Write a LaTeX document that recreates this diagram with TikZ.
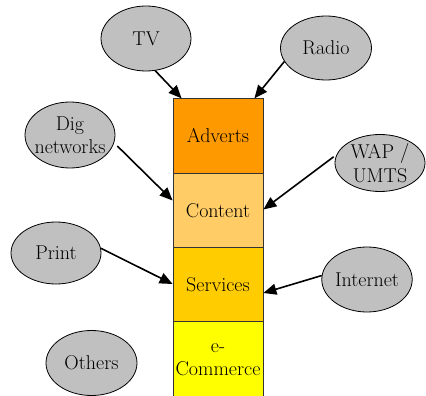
\documentclass[tikz,border=0pt]{standalone}
\usepackage{fontspec}
\usetikzlibrary{shapes.geometric,arrows.meta,calc}
\definecolor{advc}{HTML}{FF9900}
\definecolor{conc}{HTML}{FFCC66}
\definecolor{serc}{HTML}{FFCC00}
\definecolor{ecoc}{HTML}{FFFF00}
\definecolor{ellc}{HTML}{C0C0C0}
\tikzset{
  txt/.style={font=\fontsize{20}{23.5}\selectfont},
  src/.style={txt, ellipse, draw=black, fill=ellc, line width=0.8pt, minimum width=90pt, minimum height=64pt, inner sep=0pt, align=center},
  layer/.style={txt, rectangle, draw=black!80, line width=0.8pt, minimum width=90pt, minimum height=74.5pt, inner sep=0pt, align=center},
  feed/.style={line width=1.6pt, -{Triangle[length=13pt,width=11pt]}}
}
\begin{document}
\begin{tikzpicture}[x=1pt,y=-1pt]
\useasboundingbox (0,0) rectangle (426,396);
\begin{scope}
\clip (0,0) rectangle (426,396);
\node[layer, fill=advc] (adv) at (218,136) {Adverts};
\node[layer, fill=conc] (con) at (218,210.5) {Content};
\node[layer, fill=serc] (ser) at (218,285) {Services};
\node[layer, fill=ecoc, minimum height=76pt] (eco) at (218,359.5) {e-\\[-1pt]Commerce};
\end{scope}
\node[src, minimum height=65pt] (tv) at (146,38.5) {TV};
\node[src, minimum width=91pt] (radio) at (326,48) {Radio};
\node[src, minimum height=66pt, inner xsep=-8pt, inner ysep=-1pt] (dig) at (70,135) {Dig\\networks};
\node[src, minimum height=62pt] (print) at (56,253) {Print};
\node[src, minimum height=57pt, inner ysep=-4pt] (wap) at (380,163) {WAP /\\UMTS};
\node[src, minimum height=65pt] (inet) at (367,279.5) {Internet};
\node[src, minimum width=91pt, minimum height=65pt] (others) at (91.5,363) {Others};
\draw[feed] (tv.-74) -- ($(adv.north west)+(9,0)$);
\draw[feed] (radio.-162) -- ($(adv.north east)+(-9,0)$);
\draw[feed] ($(dig.-13)+(4,1)$) -- ($(con.west)+(0,-10)$);
\draw[feed] (print.6) -- ($(ser.west)+(0,-1)$);
\draw[feed] ($(wap.172)+(-2,0)$) -- ($(con.east)+(0,-1)$);
\draw[feed] (inet.175) -- ($(ser.east)+(0,8)$);
\end{tikzpicture}
\end{document}
